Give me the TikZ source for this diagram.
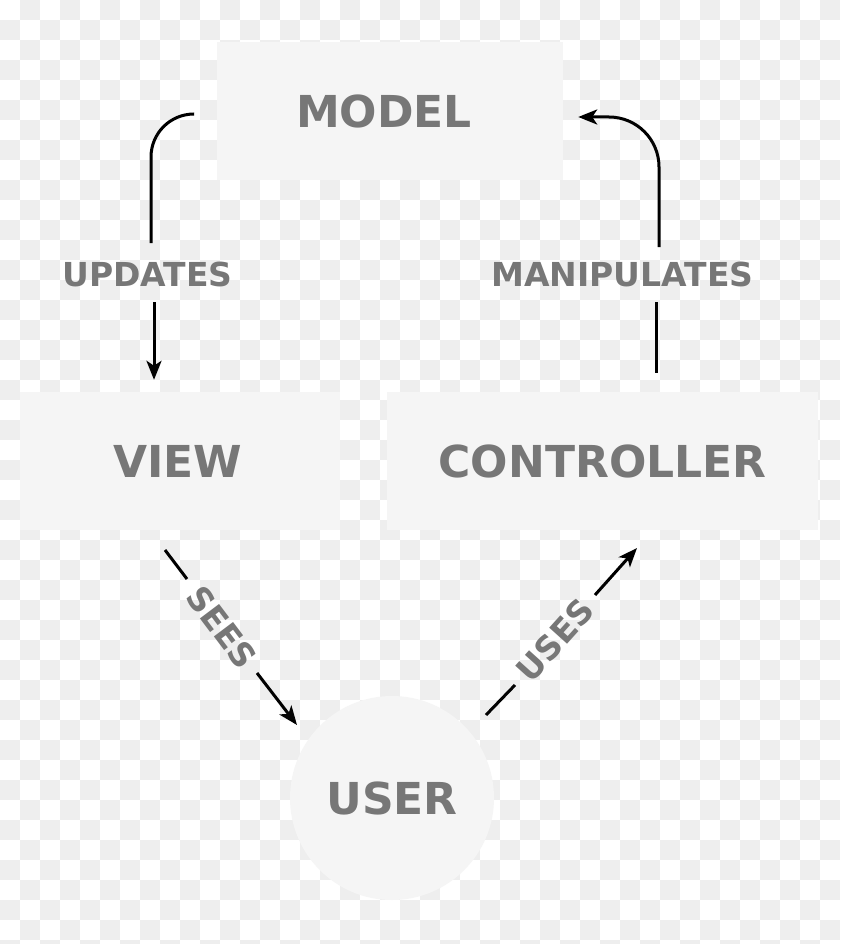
\documentclass[tikz,border=0pt]{standalone}
\usepackage{fontspec}
\setmainfont{DejaVu Sans}
\usetikzlibrary{arrows.meta,calc}
\definecolor{chk}{HTML}{EEEEEE}
\definecolor{boxc}{HTML}{F5F5F5}
\definecolor{txt}{HTML}{777777}
\tikzset{
  box/.style={fill=boxc, text=txt, font=\bfseries\fontsize{44}{52}\selectfont, inner sep=0pt},
  lbl/.style={text=txt, font=\bfseries\fontsize{33}{40}\selectfont, inner sep=0pt},
  seg/.style={line width=3pt, black},
  conn/.style={line width=3pt, black, -{Stealth[length=19pt,width=15pt,inset=5pt]}}
}
\begin{document}
\begin{tikzpicture}[x=1pt,y=-1pt]
\useasboundingbox (0,0) rectangle (840,944);
\clip (0,0) rectangle (840,944);
\fill[white] (0,0) rectangle (840,944);
\foreach \i in {0,...,41}{
  \foreach \j in {0,...,47}{
    \pgfmathtruncatemacro{\chkpar}{mod(\i+\j,2)}
    \ifnum\chkpar=1 \fill[chk] (\i*20,\j*20) rectangle ++(20,20); \fi
  }
}
% nodes
\node[box, minimum width=346pt, minimum height=138pt] (model) at (390,111) {MODEL\hspace*{12pt}};
\node[box, minimum width=320pt, minimum height=138pt] (view) at (180,461) {VIEW\hspace*{4pt}};
\node[box, minimum width=431pt, minimum height=138pt] (ctrl) at (602.5,461) {CONTROLLER};
\node[box, circle, minimum size=204pt] (user) at (392,798) {USER};
% labels
\node[lbl] (upd) at (147.5,274) {UPDATES};
\node[lbl] (man) at (622.5,274) {MANIPULATES};
\node[lbl, rotate=-53] (sees) at (222,627) {SEES};
\node[lbl, rotate=48] (uses) at (555,640) {USES};
% connector end points
\coordinate (u0) at ($(model.west)+(-23,3)$);
\coordinate (u1) at (151,114);
\coordinate (u2) at (151,243);
\coordinate (u3) at (154,302);
\coordinate (u4) at ($(view.north)+(-26,-12)$);
\coordinate (m0) at ($(ctrl.north)+(53.5,-19)$);
\coordinate (m1) at (656,302);
\coordinate (m2) at (659,247);
\coordinate (m3) at (659,117);
\coordinate (m4) at ($(model.east)+(15,6)$);
\coordinate (s0) at (165,550);
\coordinate (s1) at (187,579);
\coordinate (s2) at (257,673);
\coordinate (s3) at (297,725);
\coordinate (e0) at (486,715);
\coordinate (e1) at (515,685);
\coordinate (e2) at (595,595);
\coordinate (e3) at (637,548);
% connectors
\draw[seg, rounded corners=43pt] (u0) -- (u1) -- (u2);
\draw[conn] (u3) -- (u4);
\draw[seg] (m0) -- (m1);
\draw[conn, rounded corners=50pt] (m2) -- (m3) -- (m4);
\draw[seg] (s0) -- (s1);
\draw[conn] (s2) -- (s3);
\draw[seg] (e0) -- (e1);
\draw[conn] (e2) -- (e3);
\end{tikzpicture}
\end{document}
